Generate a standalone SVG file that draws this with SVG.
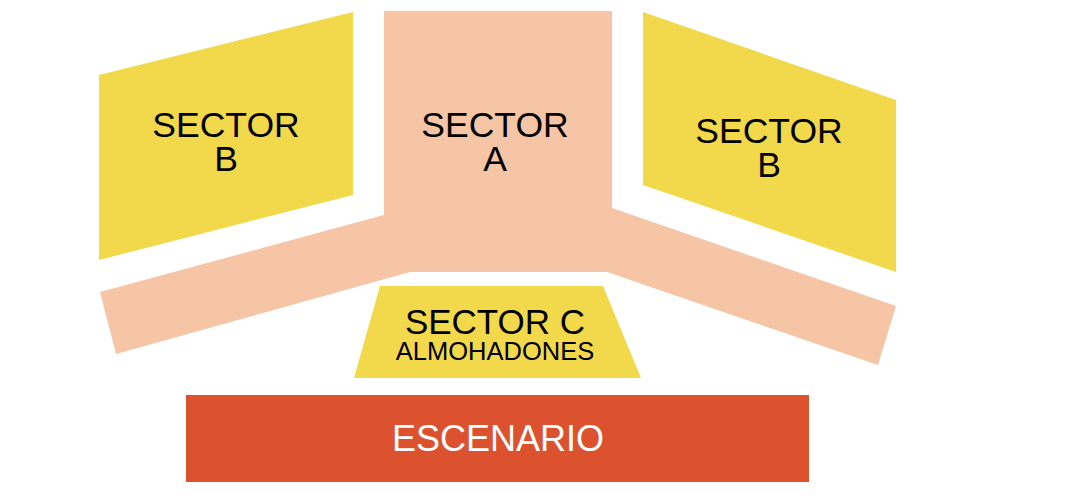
<svg xmlns="http://www.w3.org/2000/svg" width="1080" height="500" viewBox="0 0 1080 500">
<style>
.y{fill:#f2d84b}.s{fill:#f5c5a6}
text{font-family:"Liberation Sans",Arial,sans-serif;text-anchor:middle;fill:#000}
.l{font-size:35.5px}
</style>
<rect width="1080" height="500" fill="#fff"/>
<g id="sectorA"><polygon class="s" points="384,11 612,11 612,208 896,306 878,365 607,272 410,272 116,354 100,292 384,215"/>
<text class="l" x="495" y="137">SECTOR</text><text class="l" x="495" y="171">A</text></g>
<g id="sectorB-left"><polygon class="y" points="99,75 353,12 353,195 99,260"/>
<text class="l" x="226" y="137">SECTOR</text><text class="l" x="226" y="171">B</text></g>
<g id="sectorB-right"><polygon class="y" points="643,12 896,100 896,272 643,185"/>
<text class="l" x="769" y="143">SECTOR</text><text class="l" x="769" y="177">B</text></g>
<g id="sectorC"><polygon class="y" points="380,286 603,286 641,378 354,378"/>
<text x="495" y="334" font-size="35">SECTOR C</text><text x="495" y="360" font-size="25.5">ALMOHADONES</text></g>
<g id="escenario"><rect x="186" y="395" width="623" height="87" fill="#dc522f"/>
<text x="498" y="451" font-size="36" style="fill:#fff">ESCENARIO</text></g>
<g id="connectors"/>
</svg>
